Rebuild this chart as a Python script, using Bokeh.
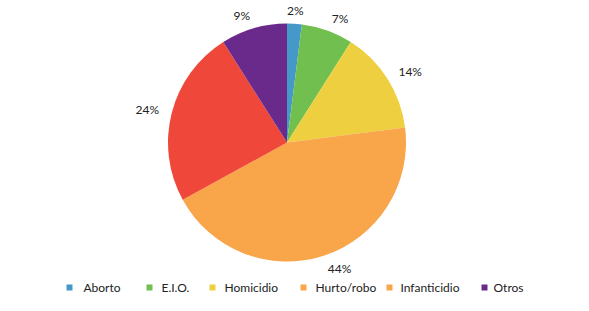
import numpy as np
from bokeh.plotting import figure
from bokeh.models import ColumnDataSource, Range1d
from bokeh.core.properties import value
from bokeh.embed import file_html
from bokeh.resources import INLINE

categories = ["Aborto", "E.I.O.", "Homicidio", "Hurto/robo", "Infanticidio", "Otros"]
percents = [2, 7, 14, 44, 24, 9]
slice_colors = ["#4599C8", "#70BF4F", "#EDCF3F", "#F9A54A", "#EF4739", "#6A2A8C"]
legend_colors = ["#4599C8", "#70BF4F", "#EDCF3F", "#F9A54A", "#F9A54A", "#6A2A8C"]
labels = [f"{v}%" for v in percents]

W, H = 573, 295
cx, cy, R = 286.5, 153, 119
label_r = 132
legend_marker_x = [69, 149, 212, 303, 389, 484]
legend_text_x = [83, 161, 224, 315, 400, 493]
legend_y = 8

p = figure(width=W, height=H, output_backend="svg", toolbar_location=None,
           x_range=Range1d(0, W), y_range=Range1d(0, H), min_border=0)
p.axis.visible = False
p.grid.visible = False
p.outline_line_color = None
p.background_fill_color = "white"

vals = np.array(percents, dtype=float)
frac = vals / vals.sum()
cum = np.concatenate([[0], np.cumsum(frac)])
start = np.pi / 2 - 2 * np.pi * cum[1:]
end = np.pi / 2 - 2 * np.pi * cum[:-1]
mid = (start + end) / 2

src = ColumnDataSource(dict(start=start, end=end, color=slice_colors))
p.wedge(x=cx, y=cy, radius=R, start_angle="start", end_angle="end",
        fill_color="color", line_color=None, source=src)

lx = cx + label_r * np.cos(mid)
ly = cy + label_r * np.sin(mid)
align = ["left" if c > 0.2 else ("right" if c < -0.2 else "center") for c in np.cos(mid)]
lsrc = ColumnDataSource(dict(x=lx, y=ly, t=labels, a=align))
p.text(x="x", y="y", text="t", text_align="a", text_baseline="middle",
       text_font=value("Lato"), text_font_size="12px", text_color="#222222", source=lsrc)

gsrc = ColumnDataSource(dict(mx=legend_marker_x, tx=legend_text_x, y=[legend_y] * 6,
                             c=legend_colors, t=categories))
p.scatter(x="mx", y="y", marker="square", size=6, fill_color="c", line_color=None, source=gsrc)
p.text(x="tx", y="y", text="t", text_align="left", text_baseline="middle",
       text_font=value("Lato"), text_font_size="12px", text_color="#222222", source=gsrc)

open("out.html", "w").write(file_html(p, INLINE))
